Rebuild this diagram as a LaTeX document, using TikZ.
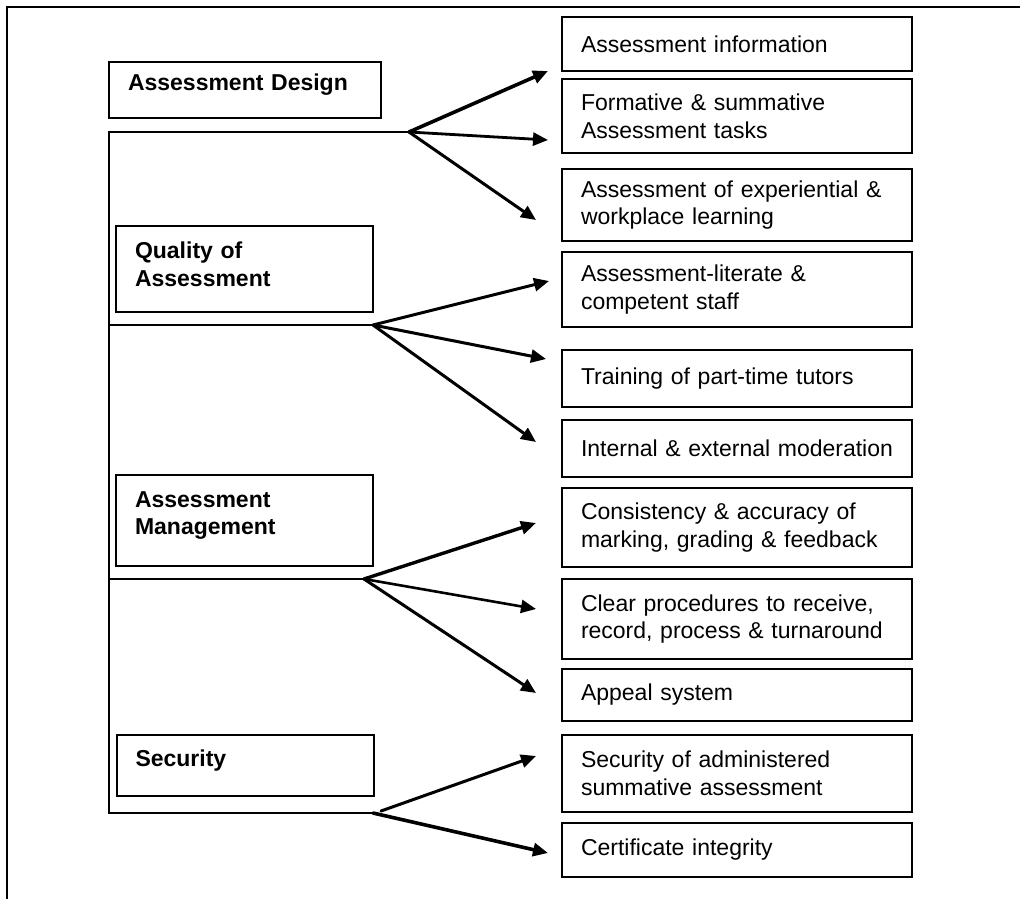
\documentclass[tikz,border=0pt]{standalone}
\usepackage{fontspec}
\setmainfont{Liberation Sans}
\usetikzlibrary{arrows.meta}

\begin{document}
\begin{tikzpicture}[x=1pt,y=-1pt,>={Triangle[length=15pt,width=13pt]}]
\useasboundingbox (0,0) rectangle (1020,899);
\tikzset{areabox/.style={draw,line width=2pt,align=left,inner xsep=19pt,text width=219pt,font=\bfseries\fontsize{23}{27.6}\selectfont,execute at end node={\par\vspace*{10pt}}},itembox/.style={draw,line width=2pt,align=left,inner xsep=19pt,text width=312pt,minimum height=#1,font=\fontsize{23}{27.6}\selectfont},bar/.style={line width=1.7pt},link/.style={->,line width=#1,line cap=round}}
\draw[line width=2.4pt] (1020,7) -- (7,7) -- (7,899);
% left column
\node[areabox,text width=234pt,minimum height=56pt] (dsg) at (245,90) {Assessment Design};
\node[areabox,minimum height=86pt] (qly) at (244.5,269) {Quality of\\Assessment};
\node[areabox,minimum height=91pt] (mgt) at (244.5,520.5) {Assessment\\Management};
\node[areabox,minimum height=61pt] (sec) at (245,765.5) {Security};
% right column
\node[itembox=54pt] (info) at (737,44) {Assessment information};
\node[itembox=74pt] (form) at (737,116) {Formative \& summative\\Assessment tasks};
\node[itembox=72pt] (expl) at (737,205) {Assessment of experiential \&\\workplace learning};
\node[itembox=75pt] (staff) at (737,289.5) {Assessment-literate \&\\competent staff};
\node[itembox=57pt] (tutor) at (737,378.5) {Training of part-time tutors};
\node[itembox=57pt] (moder) at (737,448.5) {Internal \& external moderation};
\node[itembox=79pt] (mark) at (737,527.5) {Consistency \& accuracy of\\marking, grading \& feedback};
\node[itembox=80pt] (proc) at (737,619) {Clear procedures to receive,\\record, process \& turnaround};
\node[itembox=52pt] (appeal) at (737,695) {Appeal system};
\node[itembox=77pt] (admin) at (737,773.5) {Security of administered\\summative assessment};
\node[itembox=54pt] (cert) at (737,850) {Certificate integrity};
% bracket
\coordinate (dsgA) at (409,132);
\coordinate (qlyA) at (373,325);
\coordinate (mgtA) at (364,579);
\coordinate (secA) at (373,813);
\coordinate (secB) at (381,811);
\draw[bar] (dsgA) -- (109,132) -- (109,813) -- (secA);
\draw[bar] (109,325) -- (qlyA);
\draw[bar] (109,579) -- (mgtA);
% arrow ends
\coordinate (infoT) at (548,71);
\coordinate (formT) at (548,140);
\coordinate (explT) at (536,220);
\coordinate (staffT) at (549,281);
\coordinate (tutorT) at (546,359);
\coordinate (moderT) at (536,442);
\coordinate (markT) at (536,523);
\coordinate (procT) at (536,609);
\coordinate (appealT) at (536,693);
\coordinate (adminT) at (536,756);
\coordinate (certT) at (548,853);
\draw[link=3.6pt] (dsgA) -- (infoT);
\draw[link=2.8pt] (dsgA) -- (formT);
\draw[link=3pt] (dsgA) -- (explT);
\draw[link=3pt] (qlyA) -- (staffT);
\draw[link=3pt] (qlyA) -- (tutorT);
\draw[link=3pt] (qlyA) -- (moderT);
\draw[link=3.4pt] (mgtA) -- (markT);
\draw[link=2.6pt] (mgtA) -- (procT);
\draw[link=3pt] (mgtA) -- (appealT);
\draw[link=3pt] (secB) -- (adminT);
\draw[link=3.6pt] (secA) -- (certT);
\end{tikzpicture}
\end{document}
